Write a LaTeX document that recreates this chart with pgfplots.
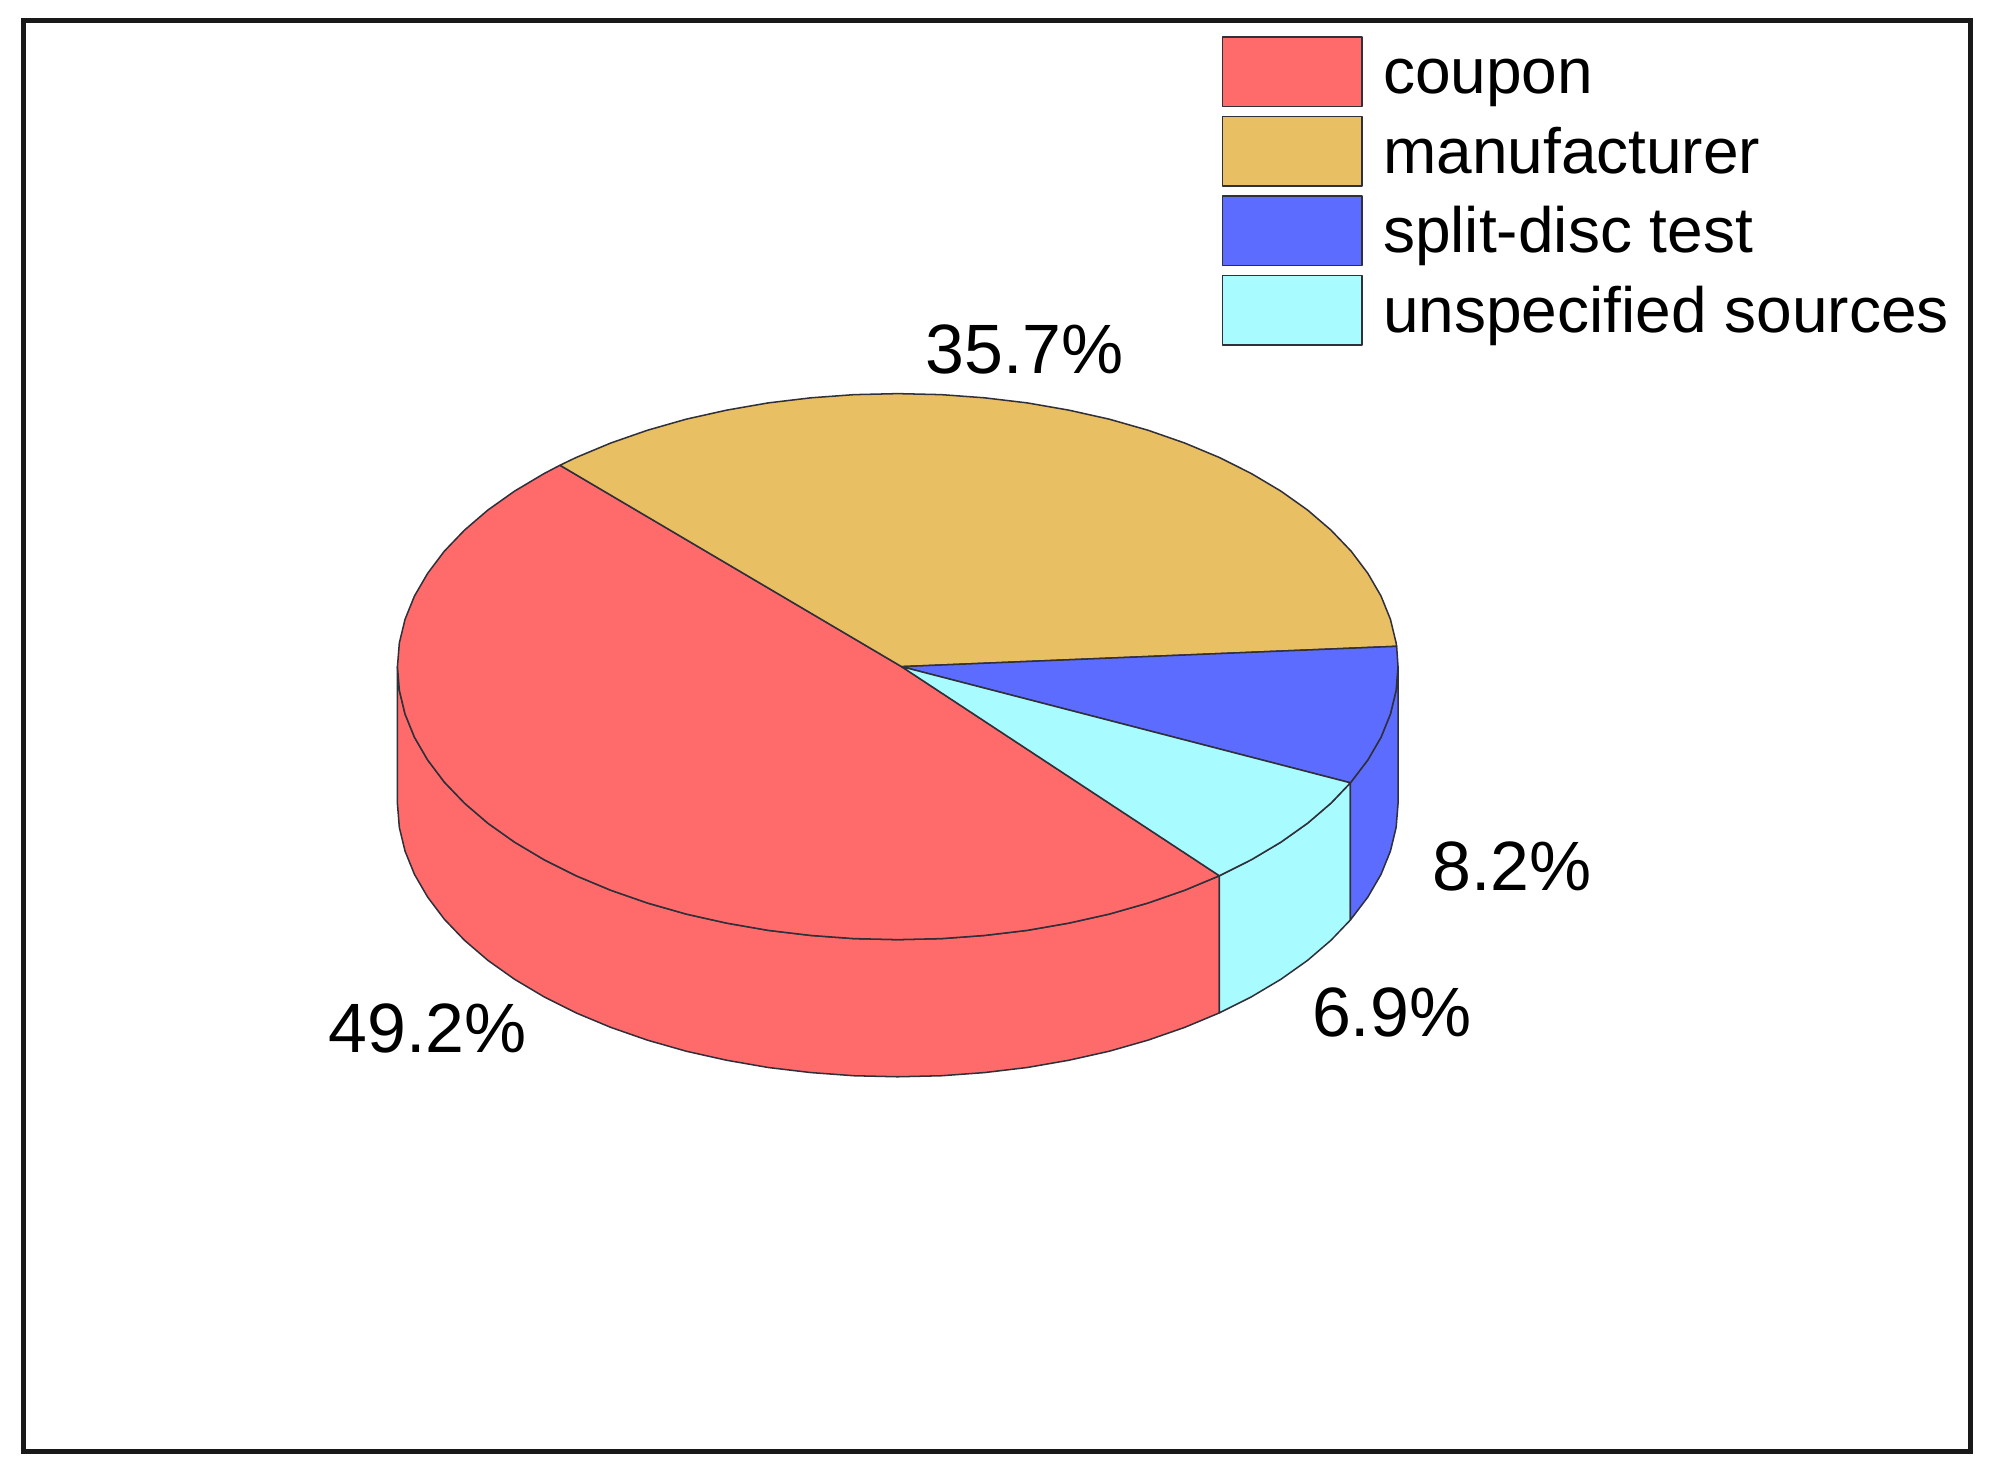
\documentclass[border=0pt]{standalone}
\usepackage{pgfplots}
\pgfplotsset{compat=1.18}
\usepackage{fontspec}
\setmainfont{Liberation Sans}
\definecolor{cCoupon}{HTML}{FF6B6B}
\definecolor{cManu}{HTML}{E9BF63}
\definecolor{cSplit}{HTML}{5C6CFF}
\definecolor{cUnsp}{HTML}{A8FCFF}
\definecolor{cEdge}{HTML}{30303A}
\pgfplotsset{
 sw/.style={line width=0.6pt,draw=cEdge,line join=round},
 swatch/.style={legend image code/.code={
   \draw[line width=0.7pt,draw=cEdge,fill=#1] (0pt,-13.7pt) rectangle (55pt,13.7pt);
   \path (63pt,0pt);}},
}
\begin{document}
\begin{tikzpicture}
\useasboundingbox (0,0) rectangle (784pt,580pt);
\begin{axis}[
  at={(0,0)},anchor=south west,
  width=784pt,height=580pt,scale only axis,
  xmin=0,xmax=1568,ymin=0,ymax=1160,y dir=reverse,
  axis lines=none,clip=false,
  legend style={at={(axis cs:962,25.2)},anchor=north west,draw=none,fill=none,
    font=\fontsize{25.2}{30}\selectfont,row sep=0pt,
    inner sep=0pt,outer sep=0pt,
    nodes={inner sep=0pt,outer sep=0pt,text height=24.4pt,text depth=6.9pt}},
  legend cell align=left,
]
% frame
\addplot[black!90,line width=1.9pt,forget plot] coordinates {(18.5,16)(1552,16)(1552,1143)(18.5,1143)} -- cycle;
% front side walls (bottom rim = top rim + 108)
\addplot[sw,fill=cCoupon,forget plot] coordinates {
 (313,525)(314.5,543.7)(319,562.3)(326.4,580.6)(336.8,598.5)(349.9,615.9)(365.8,632.5)(384.2,648.3)(405.2,663.2)(428.4,677)(453.7,689.7)(481,701.1)(510,711.2)(540.5,719.9)(572.3,727)(605,732.7)(638.6,736.7)(672.6,739.2)(707,740)(741.4,739.2)(775.4,736.7)(809,732.7)(841.7,727)(873.5,719.9)(904,711.2)(933,701.1)(960.3,689.7)
 (960.3,797.7)(933,809.1)(904,819.2)(873.5,827.9)(841.7,835)(809,840.7)(775.4,844.7)(741.4,847.2)(707,848)(672.6,847.2)(638.6,844.7)(605,840.7)(572.3,835)(540.5,827.9)(510,819.2)(481,809.1)(453.7,797.7)(428.4,785)(405.2,771.2)(384.2,756.3)(365.8,740.5)(349.9,723.9)(336.8,706.5)(326.4,688.6)(319,670.3)(314.5,651.7)(313,633)} -- cycle;
\addplot[sw,fill=cUnsp,forget plot] coordinates {
 (960.3,689.7)(985.6,677)(1008.8,663.2)(1029.8,648.3)(1048.2,632.5)(1063.5,616.5)
 (1063.5,724.5)(1048.2,740.5)(1029.8,756.3)(1008.8,771.2)(985.6,785)(960.3,797.7)} -- cycle;
\addplot[sw,fill=cSplit,forget plot] coordinates {
 (1063.5,616.5)(1077.2,598.5)(1087.6,580.6)(1095,562.3)(1099.5,543.7)(1101,525)
 (1101,633)(1099.5,651.7)(1095,670.3)(1087.6,688.6)(1077.2,706.5)(1063.5,724.5)} -- cycle;
% top slices
\addplot[sw,fill=cCoupon,swatch=cCoupon] coordinates {
 (710,525)(441,366.4)(428.4,373)(405.2,386.8)(384.2,401.7)(365.8,417.5)(349.9,434.1)(336.8,451.5)(326.4,469.4)(319,487.7)(314.5,506.3)(313,525)(314.5,543.7)(319,562.3)(326.4,580.6)(336.8,598.5)(349.9,615.9)(365.8,632.5)(384.2,648.3)(405.2,663.2)(428.4,677)(453.7,689.7)(481,701.1)(510,711.2)(540.5,719.9)(572.3,727)(605,732.7)(638.6,736.7)(672.6,739.2)(707,740)(741.4,739.2)(775.4,736.7)(809,732.7)(841.7,727)(873.5,719.9)(904,711.2)(933,701.1)(960.3,689.7)} -- cycle;
\addplot[sw,fill=cManu,swatch=cManu] coordinates {
 (710,525)(1099.9,509)(1099.5,506.3)(1095,487.7)(1087.6,469.4)(1077.2,451.5)(1064.1,434.1)(1048.2,417.5)(1029.8,401.7)(1008.8,386.8)(985.6,373)(960.3,360.3)(933,348.9)(904,338.8)(873.5,330.1)(841.7,323)(809,317.3)(775.4,313.3)(741.4,310.8)(707,310)(672.6,310.8)(638.6,313.3)(605,317.3)(572.3,323)(540.5,330.1)(510,338.8)(481,348.9)(453.7,360.3)(441,366.4)} -- cycle;
\addplot[sw,fill=cSplit,swatch=cSplit] coordinates {
 (710,525)(1063.5,616.5)(1077.2,598.5)(1087.6,580.6)(1095,562.3)(1099.5,543.7)(1101,525)(1099.9,509)} -- cycle;
\addplot[sw,fill=cUnsp,swatch=cUnsp] coordinates {
 (710,525)(960.3,689.7)(985.6,677)(1008.8,663.2)(1029.8,648.3)(1048.2,632.5)(1063.5,616.5)} -- cycle;
\node[font=\fontsize{27.5}{32}\selectfont,anchor=center] at (axis cs:807,275) {35.7\%};
\node[font=\fontsize{27.5}{32}\selectfont,anchor=center] at (axis cs:337,810) {49.2\%};
\node[font=\fontsize{27.5}{32}\selectfont,anchor=center] at (axis cs:1191,682) {8.2\%};
\node[font=\fontsize{27.5}{32}\selectfont,anchor=center] at (axis cs:1096,797) {6.9\%};
\legend{coupon,manufacturer,split-disc test,unspecified sources}
\end{axis}
\end{tikzpicture}
\end{document}
